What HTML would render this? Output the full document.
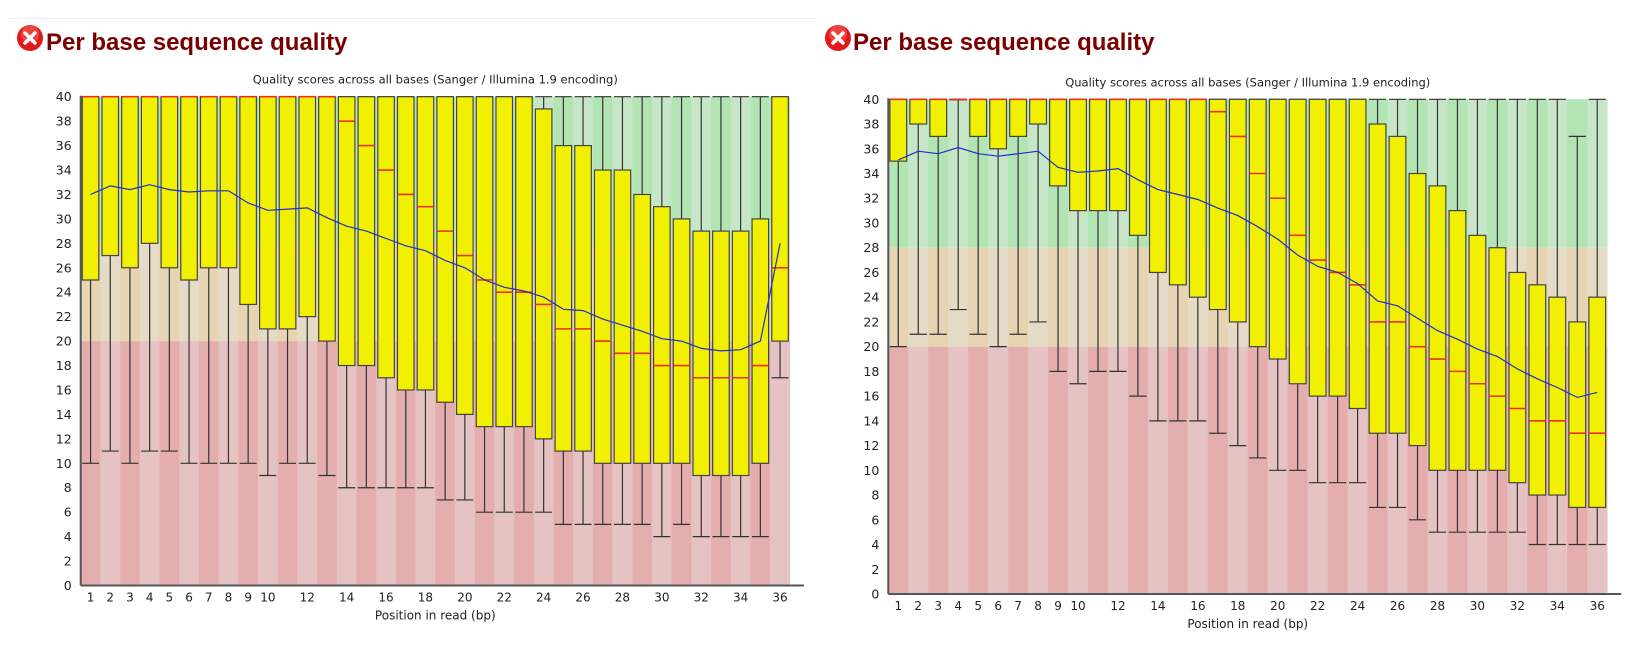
<!DOCTYPE html>
<html><head><meta charset="utf-8">
<style>
html,body{margin:0;padding:0;background:#fff;width:1640px;height:653px;overflow:hidden;}
.h{position:absolute;font-family:"Liberation Sans",sans-serif;font-weight:bold;font-size:24px;color:#7a0000;top:29px;}
</style></head><body>
<div style="position:absolute;left:8px;top:18px;width:808px;height:1px;background:#eee"></div>
<svg style="position:absolute;left:16px;top:24px" width="28" height="28"><circle cx="14" cy="14" r="13" fill="#e01818"/><circle cx="14" cy="10" r="9" fill="#ff6a6a" opacity="0.5"/><path d="M9 9 L19 19 M19 9 L9 19" stroke="#fff" stroke-width="3.5" stroke-linecap="round"/></svg>
<div class="h" style="left:46px">Per base sequence quality</div>
<svg style="position:absolute;left:824px;top:24px" width="28" height="28"><circle cx="14" cy="14" r="13" fill="#e01818"/><circle cx="14" cy="10" r="9" fill="#ff6a6a" opacity="0.5"/><path d="M9 9 L19 19 M19 9 L9 19" stroke="#fff" stroke-width="3.5" stroke-linecap="round"/></svg>
<div class="h" style="left:853px">Per base sequence quality</div>
<svg id="chart" width="1640" height="653" style="position:absolute;left:0;top:0"></svg>
<script>
const positions = [1,2,3,4,5,6,7,8,9,10,11,12,13,14,15,16,17,18,19,20,21,22,23,24,25,26,27,28,29,30,31,32,33,34,35,36];
const xTickLabels = ["1","2","3","4","5","6","7","8","9","10","","12","","14","","16","","18","","20","","22","","24","","26","","28","","30","","32","","34","","36"];
const yTicks = [0,2,4,6,8,10,12,14,16,18,20,22,24,26,28,30,32,34,36,38,40];
// Left chart
const leftQ1 = [25,27,26,28,26,25,26,26,23,21,21,22,20,18,18,17,16,16,15,14,13,13,13,12,11,11,10,10,10,10,10,9,9,9,10,20];
const leftQ3 = [40,40,40,40,40,40,40,40,40,40,40,40,40,40,40,40,40,40,40,40,40,40,40,39,36,36,34,34,32,31,30,29,29,29,30,40];
const leftMedian = [40,40,40,40,40,40,40,40,40,40,40,40,40,38,36,34,32,31,29,27,25,24,24,23,21,21,20,19,19,18,18,17,17,17,18,26];
const leftLow = [10,11,10,11,11,10,10,10,10,9,10,10,9,8,8,8,8,8,7,7,6,6,6,6,5,5,5,5,5,4,5,4,4,4,4,17];
const leftHigh = [40,40,40,40,40,40,40,40,40,40,40,40,40,40,40,40,40,40,40,40,40,40,40,40,40,40,40,40,40,40,40,40,40,40,40,40];
const leftMean = [32,32.7,32.4,32.8,32.4,32.2,32.3,32.3,31.3,30.7,30.8,30.9,30.1,29.4,29,28.4,27.8,27.4,26.6,26,25,24.4,24.1,23.6,22.6,22.5,21.8,21.3,20.8,20.2,20,19.4,19.2,19.3,20,28];
// Right chart
const rightQ1 = [35,38,37,40,37,36,37,38,33,31,31,31,29,26,25,24,23,22,20,19,17,16,16,15,13,13,12,10,10,10,10,9,8,8,7,7];
const rightQ3 = [40,40,40,40,40,40,40,40,40,40,40,40,40,40,40,40,40,40,40,40,40,40,40,40,38,37,34,33,31,29,28,26,25,24,22,24];
const rightMedian = [40,40,40,40,40,40,40,40,40,40,40,40,40,40,40,40,39,37,34,32,29,27,26,25,22,22,20,19,18,17,16,15,14,14,13,13];
const rightLow = [20,21,21,23,21,20,21,22,18,17,18,18,16,14,14,14,13,12,11,10,10,9,9,9,7,7,6,5,5,5,5,5,4,4,4,4];
const rightHigh = [40,40,40,40,40,40,40,40,40,40,40,40,40,40,40,40,40,40,40,40,40,40,40,40,40,40,40,40,40,40,40,40,40,40,37,40];
const rightMean = [35.1,35.8,35.6,36.1,35.6,35.4,35.6,35.8,34.5,34.1,34.2,34.4,33.5,32.7,32.3,31.9,31.2,30.6,29.7,28.7,27.4,26.5,26,25.1,23.7,23.3,22.3,21.3,20.6,19.8,19.2,18.2,17.4,16.7,15.9,16.3];

const NS="http://www.w3.org/2000/svg";
const svg=document.getElementById('chart');
function mk(tag,attrs,parent){const e=document.createElementNS(NS,tag);for(const k in attrs)e.setAttribute(k,attrs[k]);(parent||svg).appendChild(e);return e;}

function drawChart(prefix,L,T,B,bw,q1,q3,med,lo,hi,mean){
  const g=mk('g',{});
  
  
  const n=positions.length;
  const W=bw*n;
  const y=v=>B-(B-T)*v/40;
  const x=i=>L+bw*i;
  const zones=[[28,40,'#b2e5b3','#c7e6c7'],[20,28,'#e6d4b2','#e5dbc6'],[0,20,'#e5aeae','#e5c3c3']];
  positions.forEach((p,i)=>{
    zones.forEach(z=>{
      const r=mk('rect',{x:x(i),y:y(z[1]),width:bw+0.3,height:y(z[0])-y(z[1]),fill:i%2==0?z[2]:z[3]},g);
      
      
    });
  });
  const bwBox=bw*0.84, cap=bw*0.86;
  positions.forEach((p,i)=>{
    const cx=x(i)+bw/2;
    const wl=mk('line',{x1:cx,x2:cx,y1:y(hi[i]),y2:y(lo[i]),stroke:'#333','stroke-width':1.2},g);
    
    
    const c1=mk('line',{x1:cx-cap/2,x2:cx+cap/2,y1:y(lo[i]),y2:y(lo[i]),stroke:'#333','stroke-width':1.2},g);
    
    
    const c2=mk('line',{x1:cx-cap/2,x2:cx+cap/2,y1:y(hi[i]),y2:y(hi[i]),stroke:'#333','stroke-width':1.2},g);
    
    
    const bx=mk('rect',{x:cx-bwBox/2,y:y(q3[i]),width:bwBox,height:Math.max(0.5,y(q1[i])-y(q3[i])),fill:'#f0f000',stroke:'#444','stroke-width':1.2},g);
    
    
    const md=mk('line',{x1:cx-bwBox/2,x2:cx+bwBox/2,y1:y(med[i]),y2:y(med[i]),stroke:'#e83020','stroke-width':1.6},g);
    
    
  });
  const pts=mean.map((v,i)=>(x(i)+bw/2).toFixed(1)+','+y(v).toFixed(1)).join(' ');
  const ml=mk('polyline',{points:pts,fill:'none',stroke:'#2030c8','stroke-width':1.2},g);
  
  
  const ya=mk('line',{x1:L,x2:L,y1:T-1,y2:B,stroke:'#555','stroke-width':2},g);
  
  
  const xa=mk('line',{x1:L,x2:L+W+14,y1:B,y2:B,stroke:'#555','stroke-width':2},g);
  
  
  yTicks.forEach(v=>{
    const t=mk('text',{x:L-9,y:y(v)+4.5,'text-anchor':'end','font-family':'DejaVu Sans, Liberation Sans, sans-serif','font-size':12.5,fill:'#222'},g);
    t.textContent=v;
    
    
  });
  xTickLabels.forEach((s,i)=>{
    if(!s)return;
    const t=mk('text',{x:x(i)+bw/2,y:B+16,'text-anchor':'middle','font-family':'DejaVu Sans, Liberation Sans, sans-serif','font-size':12,fill:'#222'},g);
    t.textContent=s;
    
    
  });
  const tt=mk('text',{x:L+W/2,y:T-13,'text-anchor':'middle','font-family':'DejaVu Sans, Liberation Sans, sans-serif','font-size':11.5,fill:'#222'},g);
  tt.textContent='Quality scores across all bases (Sanger / Illumina 1.9 encoding)';
  
  
  const xl=mk('text',{x:L+W/2,y:B+34,'text-anchor':'middle','font-family':'DejaVu Sans, Liberation Sans, sans-serif','font-size':12,fill:'#222'},g);
  xl.textContent='Position in read (bp)';
  
  
}
drawChart('left',80.7,96.7,585.5,19.7,leftQ1,leftQ3,leftMedian,leftLow,leftHigh,leftMean);
drawChart('right',888.3,99.3,594,19.97,rightQ1,rightQ3,rightMedian,rightLow,rightHigh,rightMean);
</script>
</body></html>
